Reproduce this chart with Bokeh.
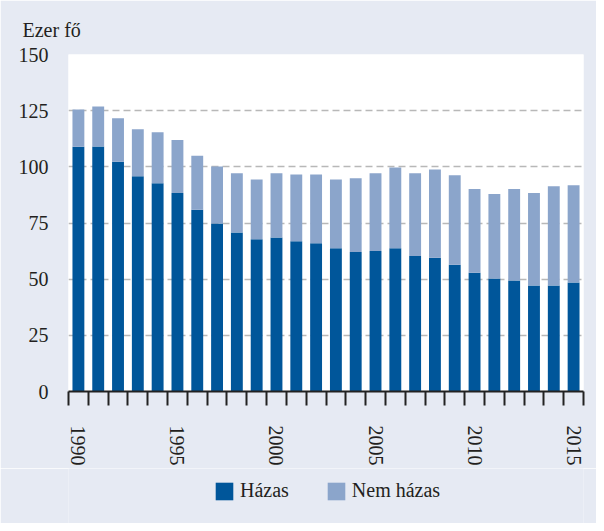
from bokeh.plotting import figure
from bokeh.layouts import column
from bokeh.models import ColumnDataSource, FixedTicker, Range1d
from bokeh.embed import file_html
from bokeh.resources import INLINE

years = list(range(1990, 2016))
hazas = [108.9, 109.0, 102.3, 95.8, 92.7, 88.3, 80.9, 74.8, 70.8, 67.8, 68.6, 66.9, 66.0,
         63.8, 62.1, 62.5, 63.8, 60.3, 59.5, 56.4, 52.9, 50.3, 49.4, 47.2, 47.2, 48.5]
nem_hazas = [16.6, 17.8, 19.3, 20.9, 22.7, 23.6, 24.0, 25.3, 26.3, 26.6, 28.5, 29.7, 30.6,
             30.6, 32.8, 34.6, 35.9, 36.8, 39.3, 39.8, 37.2, 37.6, 40.7, 41.1, 44.2, 43.3]
label_years = [1990, 1995, 2000, 2005, 2010, 2015]
y_ticks = [0, 25, 50, 75, 100, 125, 150]
grid_ticks = [25, 50, 75, 100, 125]
series_names = ["Házas", "Nem házas"]

DARK = "#00569a"
LIGHT = "#8ba5cb"
BG = "#e6eaf3"
TXT = "#231f20"
FONT = "Liberation Serif"

source = ColumnDataSource(dict(year=years, hazas=hazas, nem=nem_hazas))

p = figure(width=596, height=468, output_backend="svg", toolbar_location=None,
           x_range=Range1d(years[0] - 0.5, years[-1] + 0.5), y_range=Range1d(0, 150),
           min_border_left=68, min_border_right=13, min_border_top=54, min_border_bottom=71,
           title="Ezer fő")
p.border_fill_color = BG
p.background_fill_color = "white"
p.outline_line_color = None

p.title.text_font = FONT
p.title.text_font_size = "20px"
p.title.text_font_style = "normal"
p.title.text_color = TXT
p.title.align = "left"
p.title.offset = -46
p.title.standoff = 28

p.vbar_stack(["hazas", "nem"], x="year", width=0.6, color=[DARK, LIGHT],
             line_color=None, source=source)

# x axis
xa = p.xaxis[0]
xa.ticker = FixedTicker(ticks=label_years, minor_ticks=[y - 0.5 for y in years] + [years[-1] + 0.5])
xa.axis_line_width = 2
xa.axis_line_color = "#222222"
xa.major_tick_out = 0
xa.major_tick_in = 0
xa.minor_tick_in = 0
xa.minor_tick_out = 14
xa.minor_tick_line_width = 2
xa.minor_tick_line_color = "#222222"
xa.major_label_orientation = "vertical"
xa.major_label_standoff = 20
xa.major_label_text_font = FONT
xa.major_label_text_font_size = "20px"
xa.major_label_text_color = TXT

# y axis
ya = p.yaxis[0]
ya.ticker = FixedTicker(ticks=y_ticks)
ya.axis_line_color = None
ya.major_tick_line_color = None
ya.minor_tick_line_color = None
ya.major_label_standoff = 14
ya.major_label_text_font = FONT
ya.major_label_text_font_size = "20px"
ya.major_label_text_color = TXT

p.xgrid.visible = False
p.ygrid.ticker = FixedTicker(ticks=grid_ticks)
p.ygrid.grid_line_dash = "7 4"
p.ygrid.grid_line_color = "#b8b8b8"
p.ygrid.grid_line_width = 1.5

# legend strip (separate figure with the same background; its bars are hidden,
# they only supply the legend swatches)
leg = figure(width=596, height=55, output_backend="svg", toolbar_location=None,
             x_range=Range1d(0, 1), y_range=Range1d(0, 1),
             min_border_left=0, min_border_right=0, min_border_top=0, min_border_bottom=0)
leg.axis.visible = False
leg.grid.visible = False
leg.outline_line_color = None
leg.background_fill_color = BG
leg.border_fill_color = BG
hidden = leg.vbar_stack(["hazas", "nem"], x="year", width=0.6, color=[DARK, LIGHT],
                        line_color=None, source=source, legend_label=series_names)
for r in hidden:
    r.visible = False
lg = leg.legend[0]
lg.orientation = "horizontal"
lg.location = (145, 21)
lg.padding = 0
lg.margin = 0
lg.border_line_color = None
lg.background_fill_alpha = 0
lg.glyph_width = 22
lg.glyph_height = 22
lg.label_standoff = 5
lg.spacing = 36
lg.label_text_font = FONT
lg.label_text_font_size = "20px"
lg.label_text_color = TXT
lg.label_text_baseline = "middle"

layout = column(p, leg, spacing=0)
open("out.html", "w").write(file_html(layout, INLINE))
